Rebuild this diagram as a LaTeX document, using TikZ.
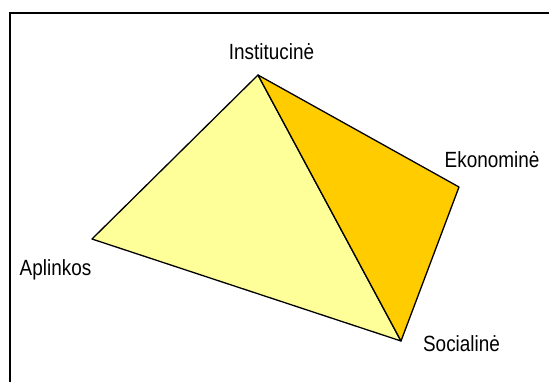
\documentclass[tikz,border=0pt]{standalone}
\usepackage{fontspec}
\setmainfont{Liberation Sans}
\usetikzlibrary{positioning}
\definecolor{paleyellow}{HTML}{FFFF99}
\definecolor{gold}{HTML}{FFCC00}
\newcommand{\narrow}[1]{\scalebox{0.86}[1]{#1}}
\tikzset{face/.style={draw=black,line width=1.3pt,line join=round},
	lbl/.style={font=\fontsize{22}{26}\selectfont,inner sep=0pt,anchor=base}}

\begin{document}
\begin{tikzpicture}[x=1pt,y=-1pt]
		\useasboundingbox (0,0) rectangle (549,381);
		\clip (0,0) rectangle (549,381);
		\draw[line width=1.5pt] (10,13) rectangle (600,420);
		% corners of the pyramid
		\coordinate (inst) at (258,75);
		\coordinate (eko) at (459,187);
		\coordinate (soc) at (401,341);
		\coordinate (apl) at (92,239);
		\filldraw[face,fill=paleyellow] (apl) -- (inst) -- (soc) -- cycle;
		\filldraw[face,fill=gold] (inst) -- (eko) -- (soc) -- cycle;
		\node[lbl] (linst) at (271.5,59) {\narrow{Institucinė}};
		\node[lbl] (leko) at (492,167.5) {\narrow{Ekonominė}};
		\node[lbl] (lapl) at (55.5,275) {\narrow{Aplinkos}};
		\node[lbl] (lsoc) at (461.5,351) {\narrow{Socialinė}};
	\end{tikzpicture}
\end{document}
